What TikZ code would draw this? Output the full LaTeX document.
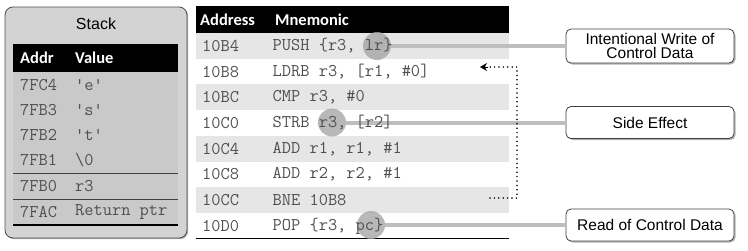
\documentclass[tikz,border=0pt]{standalone}
\usepackage{fontspec}
\setmainfont{Liberation Sans}
\newfontfamily\hdrf{Carlito}
\usetikzlibrary{shadows,arrows.meta}
\definecolor{boxgray}{HTML}{D3D3D3}
\definecolor{tabgray}{HTML}{C9C9C9}
\definecolor{rowgray}{HTML}{E6E6E6}
\definecolor{linkgray}{HTML}{BEBEBE}
\definecolor{circgray}{HTML}{A6A6A6}
\definecolor{txtgray}{HTML}{505050}
\begin{document}
\begin{tikzpicture}[x=1pt,y=-1pt,
  monotext/.style={font=\ttfamily\fontsize{17.9}{20}\selectfont, text=txtgray, anchor=west, inner sep=0pt},
  hdrtext/.style={font=\hdrf\bfseries\fontsize{16.5}{18}\selectfont, text=white, anchor=west, inner sep=0pt},
  callout/.style={draw=black!75, fill=white, rounded corners=5pt, line width=0.8pt,
    minimum width=168pt, minimum height=33pt, align=center, inner sep=0pt,
    font=\fontsize{15.5}{14}\selectfont,
    drop shadow={shadow xshift=1.5pt, shadow yshift=-1.5pt, fill=black!60, opacity=.5}},
  marker/.style={circle, fill=circgray, fill opacity=0.8, minimum size=28pt, inner sep=0pt},
  link/.style={draw=linkgray, line width=4pt},
  loopline/.style={line width=1.7pt, dash pattern=on 0pt off 4.4pt, line cap=round},
]
\useasboundingbox (0,0) rectangle (748,250);

% ---------- Stack panel ----------
\path[fill=boxgray, draw=black!70, line width=0.8pt, rounded corners=8pt,
  drop shadow={shadow xshift=1.2pt, shadow yshift=-1.2pt, fill=black!60, opacity=.5}]
  (5,7) rectangle (187,238);
\node[font=\fontsize{16}{18}\selectfont] (stacktitle) at (96,24) {Stack};
\fill[black] (13,44) rectangle (178,72);
\fill[tabgray] (13,72) rectangle (178,225);
\draw[black!75, line width=0.8pt] (13,173) -- (178,173);
\draw[black!75, line width=0.8pt] (13,199) -- (178,199);
\draw[black, line width=1.6pt] (13,225) -- (178,225);

\node[hdrtext] (saddrh) at (20,58) {Addr};
\node[hdrtext] (svalh) at (75,58) {Value};
\node[monotext] (sa1) at (20,85) {7FC4};
\node[monotext] (sv1) at (75,85) {'e'};
\node[monotext] (sa2) at (20,110) {7FB3};
\node[monotext] (sv2) at (75,110) {'s'};
\node[monotext] (sa3) at (20,135) {7FB2};
\node[monotext] (sv3) at (75,135) {'t'};
\node[monotext] (sa4) at (20,160) {7FB1};
\node[monotext] (sv4) at (75,160) {\textbackslash 0};
\node[monotext] (sa5) at (20,186) {7FB0};
\node[monotext] (sv5) at (75,186) {r3};
\node[monotext] (sa6) at (20,212) {7FAC};
\node[monotext] (sv6) at (75,212) {Return ptr};

% ---------- Code table ----------
\fill[black] (196,6) rectangle (509,33);
\foreach \i in {0,2,4,6} {
  \fill[rowgray] (196,{33+25.7*\i}) rectangle (509,{33+25.7*(\i+1)});
}
\draw[black, line width=1.6pt] (196,238.5) -- (509,238.5);

% ---------- Callouts ----------
\node[callout, minimum height=34pt] (b1) at (650,46) {Intentional Write of\\Control Data};
\node[callout, minimum height=32pt] (b2) at (650,122.5) {Side Effect};
\node[callout, minimum height=32pt] (b3) at (650,225) {Read of Control Data};

% ---------- Markers and links ----------
\node[marker] (m1) at (377,46) {};
\node[marker] (m2) at (332,122.5) {};
\node[marker] (m3) at (371,225) {};
\draw[link] (m1.east) -- (b1.west);
\draw[link] (m2.east) -- (b2.west);
\draw[link] (m3.east) -- (b3.west);

% ---------- Loop arrow ----------
\coordinate (loopstart) at (490,198);
\coordinate (looptarget) at (480,67);
\draw[loopline] (loopstart) -- (517,198) -- (517,67) -- ([xshift=8pt]looptarget);
\draw[-{Stealth[length=7pt,width=8pt]}, line width=0.8pt] ([xshift=7.5pt]looptarget) -- (looptarget);

% ---------- Code text ----------
\node[hdrtext] (cah) at (200,20) {Address};
\node[hdrtext] (cmh) at (275,20) {Mnemonic};
\node[monotext] (ca0) at (202,45.9) {10B4};
\node[monotext] (cm0) at (272.5,45.9) {PUSH \{r3, lr\}};
\node[monotext] (ca1) at (202,71.6) {10B8};
\node[monotext] (cm1) at (272.5,71.6) {LDRB r3, [r1, \#0]};
\node[monotext] (ca2) at (202,97.3) {10BC};
\node[monotext] (cm2) at (272.5,97.3) {CMP r3, \#0};
\node[monotext] (ca3) at (202,123) {10C0};
\node[monotext] (cm3) at (272.5,123) {STRB r3, [r2]};
\node[monotext] (ca4) at (202,148.7) {10C4};
\node[monotext] (cm4) at (272.5,148.7) {ADD r1, r1, \#1};
\node[monotext] (ca5) at (202,174.4) {10C8};
\node[monotext] (cm5) at (272.5,174.4) {ADD r2, r2, \#1};
\node[monotext] (ca6) at (202,200.1) {10CC};
\node[monotext] (cm6) at (272.5,200.1) {BNE 10B8};
\node[monotext] (ca7) at (202,225.8) {10D0};
\node[monotext] (cm7) at (272.5,225.8) {POP \{r3, pc\}};
\end{tikzpicture}
\end{document}
